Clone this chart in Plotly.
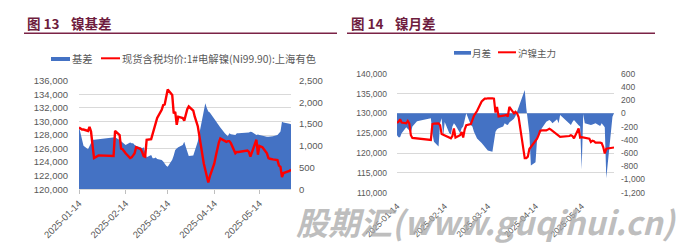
import plotly.graph_objects as go

W, H = 696, 251

# ---------------- data ----------------
dates = (
    ["2025-01-%02d" % d for d in [14, 15, 16, 17, 20, 21, 22, 23, 24, 27]]
    + ["2025-02-%02d" % d for d in [5, 6, 7, 10, 11, 12, 13, 14, 17, 18, 19, 20, 21, 24, 25, 26, 27, 28]]
    + ["2025-03-%02d" % d for d in [3, 4, 5, 6, 7, 10, 11, 12, 13, 14, 17, 18, 19, 20, 21, 24, 25, 26, 27, 28, 31]]
    + ["2025-04-%02d" % d for d in [1, 2, 3, 7, 8, 9, 10, 11, 14, 15, 16, 17, 18, 21, 22, 23, 24, 25, 28, 29, 30]]
    + ["2025-05-%02d" % d for d in [6, 7, 8, 9, 12, 13, 14, 15, 16, 19, 20, 21, 22, 23, 26, 27, 28, 29, 30]]
    + ["2025-06-%02d" % d for d in [3, 4]]
)

# Fig 13: spot price (left axis) and basis (right axis)
spot_price = [
    129100, 128900, 128800, 128800, 128600, 129200, 128500, 126500, 124600, 125000,
    124900, 124900, 128600, 128000, 126000, 125900, 125600, 125300, 124600, 124700,
    125000, 125300, 126200, 125900, 125500, 124900, 124800, 127300,
    127400, 128200, 129000, 130000, 130500, 131700, 132400, 132500, 133600, 134700,
    133900, 131200, 131400, 129500, 130700, 130500, 130100, 131000, 131800, 132200, 131600,
    130700, 130100, 129300, 123800, 122900, 122000, 121000, 121900, 123800, 124900,
    126000, 126900, 127500, 127100, 127000, 127100, 127100, 126800, 125300, 125500, 125500,
    125700, 125500, 124800, 125500, 127300, 125100, 126400, 126300, 126200, 125300,
    124600, 124500, 124400, 124400, 124300, 123500, 123300, 121800, 122400,
    122700, 122900,
]
basis = [
    1440, 1300, 1150, 1000, 920, 1000, 1080, 1140, 1140, 1150,
    1190, 1195, 1200, 1135, 1100, 1070, 1050, 1020, 1080, 1060,
    1058, 1020, 997, 966, 943, 966, 867, 736,
    790, 714, 714, 730, 700, 675, 640, 580, 540, 521,
    680, 780, 905, 940, 967, 1020, 1096, 980, 850, 767, 780,
    903, 980, 1100, 1800, 1980, 1870, 1790, 1770, 1640, 1570,
    1520, 1460, 1420, 1290, 1250, 1220, 1290, 1270, 1250, 1290, 1290,
    1300, 1310, 1326, 1320, 1250, 1260, 1250, 1240, 1230, 1210,
    1210, 1210, 1210, 1220, 1250, 1280, 1330, 1556, 1540,
    1510, 1500,
]

# Fig 14: main contract (left axis) and month spread (right axis)
main_contract = [
    127600, 127900, 128500, 127700, 127500, 128100, 127500, 124500, 123800, 123700,
    123300, 127300, 127400, 127500, 127000, 124800, 124600, 124500, 123900, 123700,
    124300, 126200, 123900, 124500, 125300, 123900, 126000, 127000,
    127300, 128500, 129400, 130000, 130600, 133000, 133500, 133700, 133700, 133800,
    133800, 133700, 130200, 131600, 129200, 129300, 129500, 129600, 129200, 131600, 130000,
    130400, 130000, 129100, 118700, 118700, 119100, 121000, 121500, 122800, 123600,
    124500, 125600, 125700, 125700, 125900, 126100, 125900, 125600, 124900, 124500, 124100,
    124300, 124500, 124300, 123700, 126200, 123900, 124000, 123900, 123900, 123600,
    122800, 123100, 123000, 122600, 122600, 122500, 121500, 119900, 121100,
    121300, 121400,
]
month_spread = [
    -330, -360, -360, -300, -210, -230, -260, -290, -200, -120,
    -75, -300, -430, -500, -150, -75, -350, -130, -300, -320,
    -200, -150, -180, -300, -226, -200, -100, 0,
    -176, -200, -277, -330, -380, -450, -480, -500, -530, -560,
    -580, -420, -277, -240, -226, -200, -150, -170, -176, -140, -80,
    -40, 30, 110, 355, 80, -100, -300, -790, -740, -400,
    -330, -300, -230, -125, -110, -100, -120, -150, -88, -150, -25,
    -150, -176, -130, -100, -180, -200, -850, -10, -150, -176,
    -176, -170, -160, -150, -190, -150, -180, -210, -980,
    -50, 0,
]

date_ticks = ["2025-01-14", "2025-02-14", "2025-03-14", "2025-04-14", "2025-05-14"]
f13_left_ticks = ["120,000", "122,000", "124,000", "126,000", "128,000", "130,000", "132,000", "134,000", "136,000"]
f13_right_ticks = ["0", "500", "1,000", "1,500", "2,000", "2,500"]
f14_left_ticks = ["110,000", "115,000", "120,000", "125,000", "130,000", "135,000", "140,000"]
f14_right_ticks = ["-1,200", "-1,000", "-800", "-600", "-400", "-200", "0", "200", "400", "600"]

title13 = ("图 13", "镍基差")
title14 = ("图 14", "镍月差")
legend13 = ("基差", "现货含税均价:1#电解镍(Ni99.90):上海有色")
legend14 = ("月差", "沪镍主力")
watermark = "股期汇(www.guqihui.cn)"


def num(s):
    return float(s.replace(",", ""))


def X(p):
    return p / W


def Y(p):
    return 1 - p / H


BLUE = "#4472C4"
RED = "#FF0000"
GRID = "#D9D9D9"
LBL = "#595959"
MAROON = "#6E1D3E"
NUM_FONT = "Liberation Sans, Arial, sans-serif"
CJK_FONT = "Noto Sans CJK SC, sans-serif"

fig = go.Figure()

fig.add_trace(go.Scatter(x=dates, y=basis, name=legend13[0], mode="lines",
                         line=dict(width=0, color=BLUE), fill="tozeroy", fillcolor=BLUE,
                         xaxis="x", yaxis="y", showlegend=False))
fig.add_trace(go.Scatter(x=dates, y=spot_price, name=legend13[1], mode="lines",
                         line=dict(width=2.4, color=RED),
                         xaxis="x", yaxis="y2", showlegend=False))
fig.add_trace(go.Scatter(x=dates, y=month_spread, name=legend14[0], mode="lines",
                         line=dict(width=0, color=BLUE), fill="tozeroy", fillcolor=BLUE,
                         xaxis="x2", yaxis="y3", showlegend=False))
fig.add_trace(go.Scatter(x=dates, y=main_contract, name=legend14[1], mode="lines",
                         line=dict(width=2.2, color=RED),
                         xaxis="x2", yaxis="y4", showlegend=False))

xrange = ["2025-01-14", "2025-06-04"]

fig.update_layout(
    width=W, height=H,
    margin=dict(l=0, r=0, t=0, b=0),
    paper_bgcolor="white", plot_bgcolor="rgba(0,0,0,0)",
    showlegend=False,
    xaxis=dict(domain=[X(79), X(291)], type="date", range=xrange, anchor="y",
               tickmode="array", tickvals=date_ticks, ticktext=date_ticks, tickangle=-45,
               ticks="outside", ticklen=4, tickcolor="#BFBFBF",
               showline=True, linecolor=GRID, linewidth=1, showgrid=False, zeroline=False,
               tickfont=dict(family=NUM_FONT, size=9.5, color=LBL), automargin=False),
    yaxis=dict(domain=[Y(189.3), Y(80.7)], range=[0, 2500], side="right", anchor="x",
               tickmode="array", tickvals=[num(t) for t in f13_right_ticks], ticktext=f13_right_ticks,
               showgrid=False, zeroline=False, showline=False, ticklabelstandoff=7,
               tickfont=dict(family=NUM_FONT, size=9.5, color=LBL), automargin=False),
    yaxis2=dict(range=[120000, 136000], side="left", overlaying="y", anchor="x",
                tickmode="array", tickvals=[num(t) for t in f13_left_ticks], ticktext=f13_left_ticks,
                showgrid=True, gridcolor=GRID, gridwidth=1, zeroline=False, showline=False,
                ticklabelstandoff=10,
                tickfont=dict(family=NUM_FONT, size=9.5, color=LBL), automargin=False),
    xaxis2=dict(domain=[X(397), X(614)], type="date", range=xrange, anchor="y3",
                tickmode="array", tickvals=date_ticks, ticktext=date_ticks, tickangle=-45,
                ticks="", showline=False, showgrid=False, zeroline=False,
                ticklabelstandoff=6,
                tickfont=dict(family=NUM_FONT, size=8.5, color=LBL), automargin=False),
    yaxis3=dict(domain=[Y(192.7), Y(73.7)], range=[-1200, 600], side="right", anchor="x2",
                tickmode="array", tickvals=[num(t) for t in f14_right_ticks], ticktext=f14_right_ticks,
                showgrid=False, zeroline=False, showline=False, ticklabelstandoff=6,
                tickfont=dict(family=NUM_FONT, size=8.5, color=LBL), automargin=False),
    yaxis4=dict(range=[110000, 140000], side="left", overlaying="y3", anchor="x2",
                tickmode="array", tickvals=[num(t) for t in f14_left_ticks], ticktext=f14_left_ticks,
                showgrid=True, gridcolor=GRID, gridwidth=1, zeroline=False, showline=False,
                ticklabelstandoff=9,
                tickfont=dict(family=NUM_FONT, size=8.5, color=LBL), automargin=False),
)

shapes = []
annotations = []

# title rules
shapes.append(dict(type="line", xref="paper", yref="paper", x0=X(24), x1=X(337), y0=Y(33.3), y1=Y(33.3),
                   line=dict(color="#7B2346", width=1.5)))
shapes.append(dict(type="line", xref="paper", yref="paper", x0=X(347), x1=X(655), y0=Y(33.3), y1=Y(33.3),
                   line=dict(color="#7B2346", width=1.5)))


def txt(x, y, s, size, color, family=CJK_FONT, bold=False, anchor="left", **kw):
    annotations.append(dict(x=X(x), y=Y(y), xref="paper", yref="paper", text=("<b>%s</b>" % s) if bold else s,
                            showarrow=False, xanchor=anchor, yanchor="middle",
                            font=dict(family=family, size=size, color=color), borderpad=0, **kw))


# titles
txt(26, 22.5, title13[0], 13.5, MAROON, bold=True)
txt(70, 22.5, title13[1], 13.5, MAROON, bold=True)
txt(350, 22.5, title14[0], 13.5, MAROON, bold=True)
txt(394, 22.5, title14[1], 13.5, MAROON, bold=True)

# legend fig 13
shapes.append(dict(type="rect", xref="paper", yref="paper", x0=X(51), x1=X(70), y0=Y(61), y1=Y(57),
                   fillcolor=BLUE, line=dict(width=0)))
txt(70.5, 58.5, legend13[0], 10.3, LBL)
shapes.append(dict(type="line", xref="paper", yref="paper", x0=X(101), x1=X(120), y0=Y(58.3), y1=Y(58.3),
                   line=dict(color=RED, width=2)))
txt(120.5, 58.5, legend13[1], 10.3, LBL)

# legend fig 14
shapes.append(dict(type="rect", xref="paper", yref="paper", x0=X(454), x1=X(471), y0=Y(54.7), y1=Y(51),
                   fillcolor=BLUE, line=dict(width=0)))
txt(471, 52.7, legend14[0], 9.5, LBL)
shapes.append(dict(type="line", xref="paper", yref="paper", x0=X(498), x1=X(516), y0=Y(52.3), y1=Y(52.3),
                   line=dict(color=RED, width=2)))
txt(517, 52.7, legend14[1], 9.5, LBL)

# watermark
annotations.append(dict(x=X(486), y=Y(221), xref="paper", yref="paper", text="<b><i>%s</i></b>" % watermark,
                        showarrow=False, xanchor="center", yanchor="middle",
                        font=dict(family=CJK_FONT, size=32, color="rgba(165,165,165,0.72)")))

fig.update_layout(shapes=shapes, annotations=annotations)

fig.write_html("out.html")
